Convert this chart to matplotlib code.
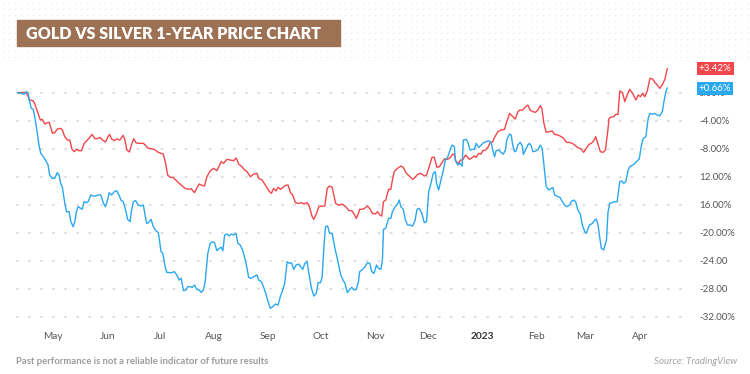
import matplotlib.pyplot as plt
import numpy as np
import pandas as pd

plt.rcParams['font.family'] = ['Lato', 'DejaVu Sans']

# data: days after the first bar (2022-04-11), percent change
start = pd.Timestamp('2022-04-11')

gold_days = [0.0, 2.9, 4.8, 6.7, 8.6, 9.5, 11.5, 12.8, 13.9, 15.3, 16.8, 17.8, 18.5, 19.7, 21.0, 22.5, 24.4, 25.4, 26.7, 28.3, 29.6, 30.9, 32.1, 33.4, 34.7, 36.3, 37.8, 39.7, 41.0, 42.4, 43.9, 45.4, 46.8, 48.3, 50.0, 51.2, 52.3, 53.5, 55.0, 56.3, 58.2, 60.1, 61.1, 62.2, 63.6, 64.9, 66.1, 67.4, 68.7, 70.3, 71.6, 72.9, 74.1, 76.0, 77.9, 79.8, 81.7, 83.0, 84.4, 85.5, 86.9, 88.4, 90.1, 91.6,
             95.4, 97.4, 98.9, 100.8, 102.1, 103.5, 105.0, 106.5, 107.9, 109.8, 111.7, 113.6, 114.9, 116.1, 117.4, 119.3, 121.2, 123.1, 124.7, 126.0, 127.9, 129.4, 130.8, 132.7, 134.6, 136.5, 137.4, 139.4, 141.3, 143.2, 144.7, 146.0, 147.4, 148.5, 149.9, 151.4, 152.7, 154.2, 155.6, 156.9, 158.4, 160.4, 161.9, 163.2, 165.1, 166.1, 168.0, 168.9, 170.5, 171.8, 173.7, 175.2, 176.6, 177.9, 179.4, 181.4, 183.3,
             185.2, 187.1, 189.0, 190.6, 191.9, 193.2, 194.4, 195.1, 196.7, 198.2, 199.5, 200.9, 202.4, 203.9, 205.3, 206.6, 207.7, 208.7, 210.0, 211.6, 212.9, 213.8, 214.8, 216.7, 218.6, 220.0, 221.5, 223.4, 225.3, 226.8, 228.2, 230.1, 232.0, 233.3, 234.8, 236.4, 237.7, 239.2, 240.6, 242.1, 243.6, 245.3, 246.9, 248.2, 249.2, 250.1, 251.6, 252.6, 253.9, 255.5, 256.8, 257.8, 259.3, 260.6, 261.6, 263.1, 264.4, 265.4, 266.9, 268.3, 269.6, 271.1, 272.1, 274.0, 275.9, 277.8, 279.1, 280.7,
             282.5, 284.0, 285.4, 286.7, 288.2, 289.8, 291.1, 292.4, 294.0, 295.5, 296.8, 298.2, 299.1, 300.3, 301.6, 303.1, 305.0, 306.4, 308.3, 310.2, 311.5, 313.1, 314.6, 316.5, 317.8, 319.7, 321.6, 323.0, 324.5, 326.0, 327.4, 328.7, 329.9, 331.2, 332.5, 334.1, 335.4, 336.5, 337.5, 338.8, 340.2, 341.3, 342.6, 343.6, 345.1, 346.5, 347.8, 349.3, 350.9, 352.8, 354.1, 355.4, 356.6, 357.9, 359.3, 360.8, 362.3, 363.6, 365.0, 366.5, 368.0, 369.4, 370.7]
gold_pct = [0.0, 0.05, 0.0, -1.04, -1.14, -1.52, -2.95, -3.90, -3.80, -4.47, -4.28, -4.23, -4.76, -5.80, -5.71, -5.19, -5.09, -5.33, -6.28, -6.76, -6.76, -8.09, -8.42, -8.09, -8.28, -8.28, -7.23, -6.76, -6.38, -5.95, -6.57, -6.57, -6.38, -6.76, -7.04, -6.42, -5.95, -6.61, -6.85, -6.61, -6.76, -6.09, -6.76, -8.19, -8.47, -7.38, -6.57, -7.14, -7.23, -7.23, -7.23, -7.52, -7.90, -8.00, -8.09, -8.47, -8.66, -8.76, -10.19, -11.76, -12.09, -12.09, -12.47, -12.85,
            -13.66, -13.80, -13.71, -14.28, -13.66, -13.04, -13.24, -13.33, -12.00, -11.14, -10.80, -11.14, -10.47, -9.85, -10.09, -9.52, -9.62, -9.71, -9.33, -10.19, -10.57, -11.04, -11.28, -12.00, -11.62, -11.52, -12.23, -12.47, -13.24, -14.00, -14.38, -13.66, -14.04, -13.52, -13.80, -13.52, -13.24, -13.19, -14.28, -14.62, -15.71, -15.81, -15.71, -15.90, -15.71, -16.04, -17.71, -18.09, -17.24, -16.28, -16.19, -16.19, -13.66, -13.33, -13.52, -15.81, -16.09,
            -15.91, -16.28, -16.85, -16.85, -17.33, -17.95, -17.24, -16.66, -16.66, -16.47, -16.19, -16.57, -17.24, -17.33, -17.00, -17.47, -17.62, -15.57, -15.33, -13.80, -13.80, -12.47, -11.28, -10.80, -10.47, -10.66, -11.43, -11.90, -12.38, -12.09, -11.66, -11.52, -11.90, -11.76, -10.57, -9.23, -9.23, -10.66, -10.57, -10.00, -9.42, -9.52, -9.23, -8.76, -8.90, -9.85, -10.09, -9.62, -9.62, -8.90, -9.23, -9.52, -9.28, -9.04, -9.23, -8.66, -8.76, -8.28, -8.19, -7.80, -7.14, -7.00, -6.38, -5.57, -5.33, -5.23, -4.14, -2.95,
            -3.42, -3.76, -2.71, -2.47, -2.47, -2.00, -1.76, -2.47, -2.71, -2.80, -2.47, -1.85, -2.23, -4.38, -5.66, -5.57, -5.47, -5.95, -6.04, -6.28, -6.52, -7.09, -7.09, -7.23, -7.47, -7.85, -8.04, -8.52, -7.95, -7.38, -7.23, -6.90, -6.28, -7.38, -8.42, -8.52, -8.19, -6.04, -3.66, -3.47, -3.42, -3.09, -3.09, 0.24, 0.05, -1.28, -0.33, 0.48, -0.09, -1.04, -0.33, -0.57, -0.09, -0.57, 0.24, 2.05, 1.96, 1.48, 1.10, 0.62, 1.19, 1.96, 3.42]

silver_days = [0.0, 1.9, 3.4, 4.8, 5.7, 6.7, 7.6, 8.8, 9.9, 11.1, 12.0, 13.0, 14.3, 15.7, 17.2, 18.1, 19.5, 21.0, 22.5, 23.5, 24.4, 25.4, 26.3, 27.7, 29.2, 30.2, 31.5, 32.5, 33.4, 34.4, 35.9, 36.7, 37.8, 39.1, 40.1, 41.6, 43.0, 44.3, 45.8, 47.3, 48.7, 50.0, 51.2, 52.1, 53.5, 55.0, 56.3, 57.7, 58.8, 60.1, 61.5, 62.6, 64.0, 64.9, 65.9, 67.2, 68.7, 70.3, 71.6, 72.5, 73.5, 74.5, 76.0, 77.3, 78.7, 80.2, 81.7, 82.7, 84.0, 85.0, 86.5, 87.8, 89.3, 90.7, 91.6,
               92.0, 93.2, 94.5, 95.8, 97.0, 98.3, 99.6, 100.8, 102.1, 103.5, 104.6, 105.9, 106.9, 108.4, 109.8, 111.1, 112.2, 113.6, 114.9, 116.1, 117.0, 118.0, 119.3, 120.6, 121.8, 123.1, 124.5, 125.6, 126.9, 128.3, 129.8, 130.8, 131.7, 133.2, 134.6, 136.5, 137.4, 139.0, 140.3, 141.6, 142.8, 144.1, 145.5, 147.0, 148.5, 149.9, 151.2, 152.3, 153.7, 155.0, 156.2, 157.5, 158.8, 160.4, 161.7, 162.6, 163.8, 165.1, 166.1, 167.6, 168.9, 170.3, 171.4, 172.8, 173.7, 174.7, 175.6, 176.8, 177.9, 179.4, 181.0, 182.3, 183.3,
               184.3, 185.6, 186.7, 188.1, 189.4, 190.6, 191.9, 193.2, 194.4, 195.1, 196.7, 198.2, 199.5, 200.9, 202.0, 203.3, 204.7, 205.8, 207.2, 208.1, 208.7, 210.0, 211.6, 212.9, 213.8, 215.4, 216.7, 217.7, 218.6, 220.0, 221.1, 222.4, 223.8, 225.3, 226.8, 227.8, 229.1, 230.6, 232.0, 233.3, 234.5, 235.8, 237.1, 238.3, 239.0, 240.2, 241.5, 242.9, 244.0, 245.3, 246.7, 247.8, 249.2, 249.7, 251.1, 252.4, 253.6, 254.3, 255.8, 256.8, 258.1, 259.3, 260.6, 261.6, 263.1, 264.4, 265.8, 267.3, 268.8, 270.2, 271.1, 272.1, 273.0, 274.6, 275.9, 277.2, 278.4, 279.1, 280.7,
               281.6, 282.5, 283.5, 284.4, 285.4, 286.7, 287.9, 288.6, 289.8, 291.1, 292.1, 293.0, 294.0, 295.5, 296.8, 298.2, 299.3, 300.3, 301.6, 303.1, 304.5, 305.4, 306.4, 308.3, 309.6, 310.8, 312.1, 313.4, 315.0, 315.9, 317.3, 318.4, 319.7, 321.1, 322.2, 323.6, 324.5, 325.5, 326.4, 328.0, 329.3, 330.2, 331.2, 332.1, 333.1, 334.4, 336.0, 336.9, 337.9, 339.4, 340.7, 342.1, 343.6, 344.6, 345.9, 347.0, 348.4, 349.3, 350.9, 352.2, 353.5, 354.7, 356.0, 357.0, 358.5, 359.8, 360.8, 362.3, 363.6, 365.0, 366.5, 368.0, 368.8, 370.0, 370.7]
silver_pct = [0.0, -0.09, -0.23, 0.15, 0.00, -1.28, -2.23, -2.38, -3.90, -5.80, -7.47, -8.66, -9.04, -9.61, -10.33, -11.76, -12.23, -12.23, -11.42, -11.76, -12.95, -13.52, -15.09, -17.00, -17.00, -18.42, -19.14, -18.42, -17.00, -16.28, -16.52, -16.66, -15.57, -15.71, -15.57, -14.61, -14.76, -14.76, -14.61, -14.61, -15.71, -16.28, -15.33, -14.28, -14.61, -14.14, -14.00, -14.61, -15.33, -15.57, -16.76, -18.09, -18.42, -16.76, -15.57, -15.42, -16.04, -16.19, -16.04, -17.33, -18.66, -18.57, -18.09, -19.14, -19.71, -20.00, -22.71, -22.95, -24.85, -25.66, -25.71, -25.71, -25.57, -26.04, -26.52,
              -26.76, -26.52, -28.28, -28.19, -27.71, -27.71, -27.81, -27.48, -28.09, -28.19, -28.52, -28.19, -27.00, -22.95, -21.52, -21.28, -21.43, -22.57, -22.24, -22.09, -22.57, -20.33, -20.19, -20.47, -20.19, -20.33, -20.09, -21.52, -21.76, -22.48, -23.90, -25.09, -26.38, -26.52, -26.28, -26.05, -26.76, -27.00, -27.81, -28.76, -29.86, -30.81, -30.57, -30.19, -30.33, -29.05, -28.19, -27.24, -24.14, -24.38, -24.29, -25.24, -24.62, -24.48, -24.95, -25.24, -24.38, -24.14, -25.81, -27.95, -29.05, -28.67, -27.14, -27.14, -26.28, -22.00, -19.14, -19.05, -20.09, -20.09, -22.24, -23.67, -24.86,
              -26.05, -26.76, -27.24, -28.57, -28.09, -27.81, -28.19, -28.09, -27.00, -25.57, -25.24, -24.86, -24.29, -24.38, -25.57, -25.81, -24.62, -25.09, -25.24, -23.90, -19.52, -19.38, -17.95, -17.95, -17.00, -16.28, -15.90, -15.33, -16.28, -16.66, -18.09, -18.90, -18.90, -19.05, -18.19, -16.66, -16.52, -17.24, -18.57, -18.43, -14.14, -12.95, -11.52, -11.28, -12.95, -13.90, -12.47, -11.05, -9.61, -9.24, -8.19, -7.48, -7.71, -9.61, -10.33, -10.09, -10.48, -6.76, -6.67, -7.00, -8.19, -8.10, -8.10, -7.24, -7.81, -7.48, -7.14, -7.00, -6.86, -7.14, -8.19, -9.14, -8.29, -8.19, -8.57, -8.76, -8.10, -6.76, -5.90,
              -6.05, -7.48, -8.43, -8.33, -7.48, -7.09, -7.57, -8.81, -8.19, -7.48, -7.24, -7.57, -8.43, -8.33, -8.19, -7.48, -7.95, -10.33, -13.42, -13.90, -13.66, -13.57, -14.61, -14.85, -15.00, -15.57, -16.04, -16.28, -16.04, -15.57, -15.33, -15.57, -16.76, -17.38, -18.90, -19.85, -20.09, -19.38, -18.90, -18.66, -18.19, -18.05, -18.90, -20.57, -22.24, -22.47, -21.05, -17.00, -15.81, -15.67, -15.57, -15.57, -12.71, -12.62, -12.95, -12.71, -11.05, -10.57, -10.33, -10.10, -9.76, -9.48, -7.48, -6.52, -6.29, -3.67, -2.95, -3.09, -2.95, -3.19, -3.29, -2.62, -1.29, 0.24, 0.66]

ytick_values = [0, -4, -8, -12, -16, -20, -24, -28, -32]
ytick_labels = ['0.00%', '-4.00%', '-8.00%', '12.00%', '16.00%', '-20.00%', '-24.00', '-28.00', '-32.00%']
month_starts = ['2022-05-01', '2022-06-01', '2022-07-01', '2022-08-01', '2022-09-01', '2022-10-01',
                '2022-11-01', '2022-12-01', '2023-01-01', '2023-02-01', '2023-03-01', '2023-04-01']
month_labels = ['May', 'Jun', 'Jul', 'Aug', 'Sep', 'Oct', 'Nov', 'Dec', '2023', 'Feb', 'Mar', 'Apr']

gold_color = '#f1474b'
silver_color = '#2aa8ef'

W, H = 750, 374
fig = plt.figure(figsize=(W / 100, H / 100), dpi=100)

# background layer in pixel coords: dotted band, title box, footer
bg = fig.add_axes([0, 0, 1, 1], zorder=-1)
bg.set_xlim(0, W)
bg.set_ylim(H, 0)
bg.axis('off')
gx, gy = np.meshgrid(np.arange(3, W, 6), np.arange(3, 62, 6))
bg.scatter(gx.ravel(), gy.ravel(), s=0.6, c='#e2e2e2', linewidths=0)
bg.add_patch(plt.Rectangle((17, 20), 323, 26, color='#9d7154', zorder=2))
bg.text(26, 33.5, 'GOLD VS SILVER 1-YEAR PRICE CHART', color='white', fontsize=11.5,
        fontweight='heavy', va='center', ha='left', zorder=3)
bg.text(16, 361.5, 'Past performance is not a reliable indicator of future results',
        color='#9b9b9b', fontsize=6.8, fontweight='bold', va='center', ha='left')
bg.text(737, 361.5, 'Source: TradingView', color='#a3a3a3', fontsize=7,
        style='italic', va='center', ha='right')

ax = fig.add_axes([16 / W, 1 - 326 / H, 667 / W, 261 / H])
ax.set_facecolor('white')

gold_x = start + pd.to_timedelta(gold_days, unit='D')
silver_x = start + pd.to_timedelta(silver_days, unit='D')
ax.plot(gold_x, gold_pct, color=gold_color, lw=1.0, zorder=3)
ax.plot(silver_x, silver_pct, color=silver_color, lw=1.0, zorder=3)

ax.set_xlim(start - pd.Timedelta(days=1.1), start + pd.Timedelta(days=379.7))
ax.set_ylim(-33.33, 3.96)

for v in ytick_values:
    ax.axhline(v, color='#e0e0e0', lw=1.4, ls=(0, (1.4, 4.8)), zorder=1)

for s in ax.spines.values():
    s.set_visible(False)

ax.yaxis.tick_right()
ax.set_yticks(ytick_values)
ax.set_yticklabels(ytick_labels)
ax.tick_params(axis='y', length=0, pad=11.5, labelsize=7, labelcolor='#555555')

ax.set_xticks(pd.to_datetime(month_starts))
ax.set_xticklabels(month_labels)
ax.tick_params(axis='x', length=0, pad=4, labelsize=7.3, labelcolor='#555555')
for lbl in ax.get_xticklabels():
    if lbl.get_text() == '2023':
        lbl.set_fontweight('bold')
        lbl.set_color('#333333')

# last-value badges
for val, txt, col in [(gold_pct[-1], '+3.42%', gold_color), (silver_pct[-1], '+0.66%', silver_color)]:
    ax.annotate(txt, xy=(1, val), xycoords=ax.get_yaxis_transform(), xytext=(11.5, 0),
                textcoords='offset points', ha='left', va='center', fontsize=7, color='white',
                bbox=dict(boxstyle='square,pad=0.2', fc=col, ec='none'),
                annotation_clip=False, zorder=10)

fig.savefig('out.png', dpi=100, facecolor='white')
